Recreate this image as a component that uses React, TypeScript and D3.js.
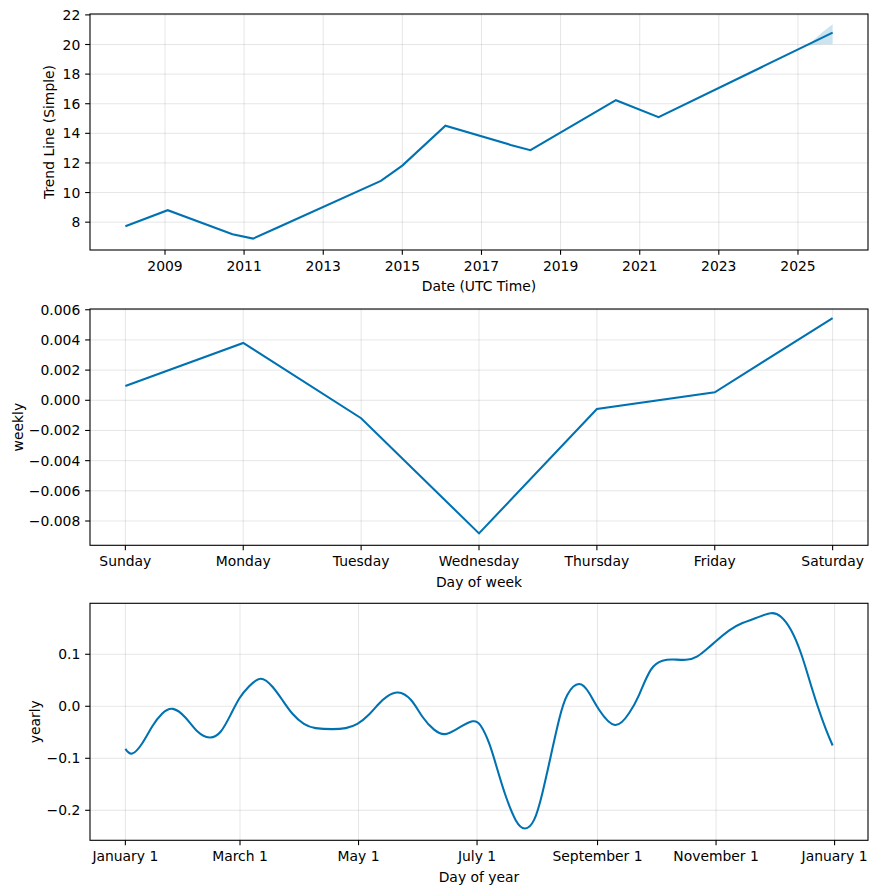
import React from "react";
import * as d3 from "d3";

// ---------- Data ----------
const trendDates = [
  "2008-01-01", "2009-01-26", "2010-09-16", "2011-03-25", "2011-10-23",
  "2014-06-17", "2015-01-01", "2016-02-03", "2017-09-27", "2018-03-29",
  "2020-05-26", "2021-06-24", "2025-11-17",
];
const trendValues = [7.73, 8.81, 7.19, 6.89, 7.59, 10.79, 11.82, 14.52, 13.22, 12.86, 16.24, 15.09, 20.8];

const bandDates = ["2025-03-28", "2025-06-10", "2025-08-25", "2025-11-17"];
const bandUpper = [19.9, 20.4, 20.9, 21.37];
const bandLower = [19.9, 19.98, 20.01, 20.02];

const trendTickYears = [2009, 2011, 2013, 2015, 2017, 2019, 2021, 2023, 2025];
const trendYTicks = [8, 10, 12, 14, 16, 18, 20, 22];

const weekDays = ["Sunday", "Monday", "Tuesday", "Wednesday", "Thursday", "Friday", "Saturday"];
const weeklyValues = [0.00095, 0.0038, -0.00119, -0.00882, -0.00058, 0.00053, 0.00544];
const weeklyYTicks = [-0.008, -0.006, -0.004, -0.002, 0.0, 0.002, 0.004, 0.006];

const yearlyDays = [
  0, 3.5, 8.7, 13.8, 19, 24.5, 31, 37, 43.3, 49, 54.2, 58.8, 63.6, 69.6, 75.6, 80.7, 85.9, 91.9,
  97.9, 106.5, 113.4, 119.4, 125.4, 130.5, 134.8, 140.3, 146.9, 152.8, 158.9, 164.5, 170.9, 178.6,
  182.9, 187.2, 191.5, 195.8, 200.9, 205.7, 210.4, 214.6, 218.9, 223.2, 227.5, 233.5, 238.7, 243.8,
  252, 259.3, 264.4, 270.4, 276.4, 281.6, 288.5, 294.4, 299.6, 303.9, 310.8, 317.6, 324.5, 332.2,
  337.4, 342.5, 347.7, 352, 356.3, 360.6, 364,
];
const yearlyValues = [
  -0.082, -0.091, -0.071, -0.039, -0.014, -0.005, -0.022, -0.048, -0.06, -0.049, -0.016, 0.016,
  0.038, 0.053, 0.038, 0.0125, -0.014, -0.034, -0.042, -0.044, -0.042, -0.034, -0.016, 0.005, 0.019,
  0.0265, 0.0125, -0.0196, -0.045, -0.0535, -0.043, -0.029, -0.0375, -0.071, -0.122, -0.173, -0.219,
  -0.235, -0.218, -0.167, -0.0965, -0.026, 0.022, 0.0427, 0.0254, -0.0067, -0.036, -0.013, 0.022,
  0.07, 0.0875, 0.09, 0.0894, 0.096, 0.111, 0.125, 0.146, 0.16, 0.1696, 0.179, 0.172, 0.147,
  0.102, 0.051, 0.0, -0.045, -0.0754,
];
const yearlyTickDays = [0, 59, 120, 181, 243, 304, 365];
const yearlyTickLabels = ["January 1", "March 1", "May 1", "July 1", "September 1", "November 1", "January 1"];
const yearlyYTicks = [-0.2, -0.1, 0.0, 0.1];

// ---------- Style ----------
const W = 878;
const H = 893;
const LEFT = 90;
const RIGHT = 868;
const COLOR = "#0072B2";
const FONT = "DejaVu Sans";
const FS = 13.9;
const TICK = 4.86;

const fmtMinus = (s: string) => s.replace("-", "\u2212");

type PanelProps = {
  top: number;
  bottom: number;
  xTicks: { pos: number; label: string }[];
  yTicks: { pos: number; label: string }[];
  xLabel: string;
  yLabel: string;
  yLabelX: number;
  children: React.ReactNode;
};

function Panel({ top, bottom, xTicks, yTicks, xLabel, yLabel, yLabelX, children }: PanelProps) {
  const clipId = `clip-${Math.round(top)}`;
  return (
    <g>
      <defs>
        <clipPath id={clipId}>
          <rect x={LEFT} y={top} width={RIGHT - LEFT} height={bottom - top} />
        </clipPath>
      </defs>
      {xTicks.map((t, i) => (
        <line key={"gx" + i} x1={t.pos} x2={t.pos} y1={top} y2={bottom} stroke="gray" strokeOpacity={0.2} strokeWidth={1} />
      ))}
      {yTicks.map((t, i) => (
        <line key={"gy" + i} x1={LEFT} x2={RIGHT} y1={t.pos} y2={t.pos} stroke="gray" strokeOpacity={0.2} strokeWidth={1} />
      ))}
      <g clipPath={`url(#${clipId})`}>{children}</g>
      <rect x={LEFT} y={top} width={RIGHT - LEFT} height={bottom - top} fill="none" stroke="black" strokeWidth={1.1} />
      {xTicks.map((t, i) => (
        <g key={"tx" + i}>
          <line x1={t.pos} x2={t.pos} y1={bottom} y2={bottom + TICK} stroke="black" strokeWidth={1.1} />
          <text x={t.pos} y={bottom + 20.7} textAnchor="middle" fontFamily={FONT} fontSize={FS} fill="black">
            {t.label}
          </text>
        </g>
      ))}
      {yTicks.map((t, i) => (
        <g key={"ty" + i}>
          <line x1={LEFT - TICK} x2={LEFT} y1={t.pos} y2={t.pos} stroke="black" strokeWidth={1.1} />
          <text x={LEFT - 2 * TICK} y={t.pos} dy="0.36em" textAnchor="end" fontFamily={FONT} fontSize={FS} fill="black">
            {t.label}
          </text>
        </g>
      ))}
      <text x={(LEFT + RIGHT) / 2} y={bottom + 41.2} textAnchor="middle" fontFamily={FONT} fontSize={FS} fill="black">
        {xLabel}
      </text>
      <text
        transform={`translate(${yLabelX},${(top + bottom) / 2}) rotate(-90)`}
        textAnchor="middle"
        fontFamily={FONT}
        fontSize={FS}
        fill="black"
      >
        {yLabel}
      </text>
    </g>
  );
}

export default function App() {
  const parse = d3.utcParse("%Y-%m-%d");

  // ---- Panel 1: trend ----
  const p1 = { top: 14, bottom: 250 };
  const tDates = trendDates.map((d) => parse(d) as Date);
  const tExt = d3.extent(tDates) as [Date, Date];
  const span = tExt[1].getTime() - tExt[0].getTime();
  const x1 = d3
    .scaleUtc()
    .domain([new Date(tExt[0].getTime() - 0.05 * span), new Date(tExt[1].getTime() + 0.05 * span)])
    .range([LEFT, RIGHT]);
  const y1 = d3.scaleLinear().domain([6.12, 22.06]).range([p1.bottom, p1.top]);
  const trendPts = tDates.map((d, i) => [d, trendValues[i]] as [Date, number]);
  const trendLine = d3
    .line<[Date, number]>()
    .x((d) => x1(d[0]))
    .y((d) => y1(d[1]))(trendPts) as string;
  const bandPts = bandDates.map((d, i) => ({ d: parse(d) as Date, u: bandUpper[i], l: bandLower[i] }));
  const bandPath = d3
    .area<{ d: Date; u: number; l: number }>()
    .x((p) => x1(p.d))
    .y0((p) => y1(p.l))
    .y1((p) => y1(p.u))(bandPts) as string;

  // ---- Panel 2: weekly ----
  const p2 = { top: 309, bottom: 545.3 };
  const x2 = d3.scaleLinear().domain([-0.3, 6.3]).range([LEFT, RIGHT]);
  const y2 = d3.scaleLinear().domain([-0.00961, 0.00605]).range([p2.bottom, p2.top]);
  const weeklyLine = d3
    .line<number>()
    .x((_, i) => x2(i))
    .y((v) => y2(v))(weeklyValues) as string;

  // ---- Panel 3: yearly ----
  const p3 = { top: 603.3, bottom: 840.3 };
  const x3 = d3.scaleLinear().domain([-18.2, 382.2]).range([LEFT, RIGHT]);
  const y3 = d3.scaleLinear().domain([-0.2577, 0.198]).range([p3.bottom, p3.top]);
  const yearlyLine = d3
    .line<number>()
    .x((_, i) => x3(yearlyDays[i]))
    .y((v) => y3(v))
    .curve(d3.curveNatural)(yearlyValues) as string;

  return (
    <svg
      width={W}
      height={H}
      viewBox={`0 0 ${W} ${H}`}
      style={{ position: "absolute", left: 0, top: 0, background: "white" }}
    >
      <rect x={0} y={0} width={W} height={H} fill="white" />
      <Panel
        top={p1.top}
        bottom={p1.bottom}
        xTicks={trendTickYears.map((yr) => ({ pos: x1(new Date(Date.UTC(yr, 0, 1))), label: String(yr) }))}
        yTicks={trendYTicks.map((v) => ({ pos: y1(v), label: String(v) }))}
        xLabel="Date (UTC Time)"
        yLabel="Trend Line (Simple)"
        yLabelX={54}
      >
        <path d={bandPath} fill={COLOR} fillOpacity={0.2} stroke="none" />
        <path d={trendLine} fill="none" stroke={COLOR} strokeWidth={2.08} />
      </Panel>
      <Panel
        top={p2.top}
        bottom={p2.bottom}
        xTicks={weekDays.map((d, i) => ({ pos: x2(i), label: d }))}
        yTicks={weeklyYTicks.map((v) => ({ pos: y2(v), label: fmtMinus(v.toFixed(3)) }))}
        xLabel="Day of week"
        yLabel="weekly"
        yLabelX={22.5}
      >
        <path d={weeklyLine} fill="none" stroke={COLOR} strokeWidth={2.08} />
      </Panel>
      <Panel
        top={p3.top}
        bottom={p3.bottom}
        xTicks={yearlyTickDays.map((d, i) => ({ pos: x3(d), label: yearlyTickLabels[i] }))}
        yTicks={yearlyYTicks.map((v) => ({ pos: y3(v), label: fmtMinus(v.toFixed(1)) }))}
        xLabel="Day of year"
        yLabel="yearly"
        yLabelX={40}
      >
        <path d={yearlyLine} fill="none" stroke={COLOR} strokeWidth={2.08} />
      </Panel>
    </svg>
  );
}
